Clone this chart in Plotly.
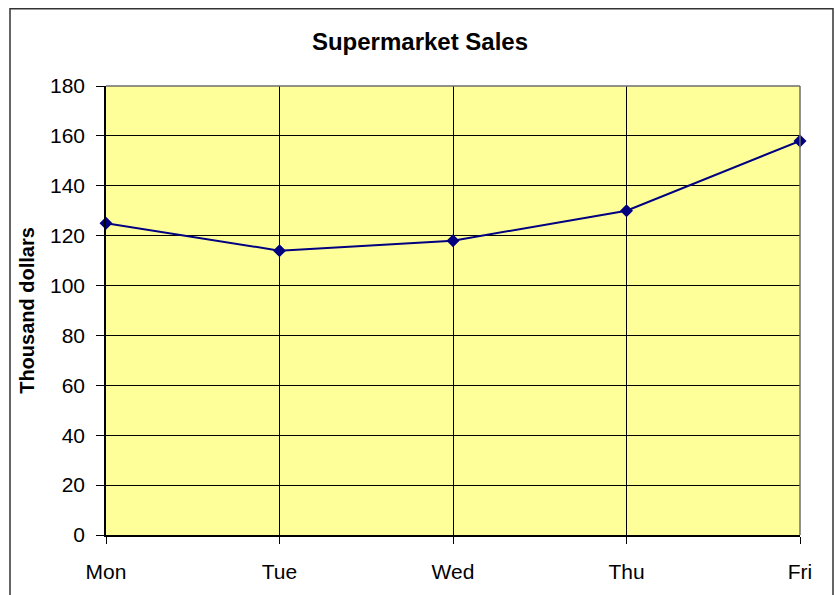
import plotly.graph_objects as go

days = ["Mon", "Tue", "Wed", "Thu", "Fri"]
sales = [125, 114, 118, 130, 158]
y_ticks = [0, 20, 40, 60, 80, 100, 120, 140, 160, 180]

FONT = "Arial, Liberation Sans, sans-serif"
NAVY = "#000080"

fig = go.Figure()
fig.add_trace(go.Scatter(
    x=days, y=sales, mode="lines+markers",
    line=dict(color=NAVY, width=2),
    marker=dict(symbol="diamond", size=10, color=NAVY),
    showlegend=False, cliponaxis=False, hoverinfo="skip",
))

W, H = 835, 595
L, R, T, B = 106, 800, 86, 540  # plot area in px
fig.update_layout(
    width=W, height=H,
    margin=dict(l=L, r=W - R, t=T, b=H - B),
    paper_bgcolor="white",
    plot_bgcolor="#FFFF99",
    hovermode=False,
    font=dict(family=FONT, color="black", size=20),
    title=dict(text="<b>Supermarket Sales</b>", x=420/W, xref="container", xanchor="center",
               y=1 - 42/H, yref="container", yanchor="middle",
               font=dict(family=FONT, size=24, color="black")),
    xaxis=dict(
        type="category", range=[0, 4],
        showgrid=True, gridcolor="black", gridwidth=1,
        showline=True, linecolor="black", linewidth=1.5,
        ticks="outside", ticklen=7, tickcolor="black", tickwidth=1,
        ticklabelstandoff=10,
        tickfont=dict(family=FONT, size=21, color="black"),
        zeroline=False,
    ),
    yaxis=dict(
        range=[0, 180], tickvals=y_ticks,
        showgrid=True, gridcolor="black", gridwidth=1,
        showline=True, linecolor="black", linewidth=1.5,
        ticks="outside", ticklen=8, tickcolor="black", tickwidth=1,
        ticklabelstandoff=7,
        tickfont=dict(family=FONT, size=21, color="black"),
        zeroline=False,
        title=dict(text="<b>Thousand dollars</b>", standoff=10,
                   font=dict(family=FONT, size=20, color="black")),
    ),
)

# plot area border top/right (gray)
fig.add_shape(type="line", xref="paper", yref="paper", x0=0, x1=1, y0=1, y1=1,
              line=dict(color="#6e6e6e", width=1.5))
fig.add_shape(type="line", xref="paper", yref="paper", x0=1, x1=1, y0=0, y1=1,
              line=dict(color="#6e6e6e", width=1.5))

# outer chart frame
pw, ph = R - L, B - T
fig.add_shape(type="rect", xref="paper", yref="paper",
              x0=(10 - L) / pw, x1=(833 - L) / pw,
              y0=(B - 640) / ph, y1=(B - 8) / ph,
              line=dict(color="#333333", width=1.5), fillcolor="rgba(0,0,0,0)", layer="below")

fig.write_html("out.html", config={"displayModeBar": False},
               post_script="document.body.style.margin='0';document.body.style.overflow='hidden';")
